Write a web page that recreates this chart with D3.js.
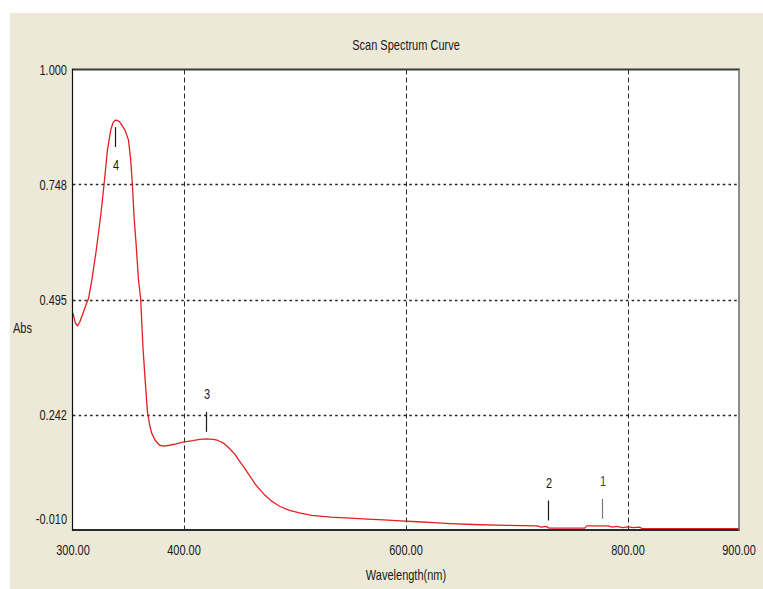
<!DOCTYPE html>
<html>
<head>
<meta charset="utf-8">
<script src="https://cdn.jsdelivr.net/npm/d3@7"></script>
<style>
  html, body { margin: 0; padding: 0; background: #ffffff; }
  svg { display: block; }
  text { font-family: "Liberation Sans Narrow", "Liberation Sans", Arial, sans-serif; fill: #1a1a1a;
         -webkit-font-smoothing: antialiased; }
</style>
</head>
<body>
<svg id="chart" width="763" height="589"></svg>
<script>
// Scan spectrum: wavelength (nm) vs absorbance
const wavelength = [
  300, 302, 304, 306, 309, 312, 314, 317, 321, 325, 328, 331, 334, 336, 338, 340,
  342, 345, 347, 350, 352, 353.5, 355, 357, 359, 361, 363, 365, 367, 369, 371, 374,
  378, 382, 387, 393, 399, 408, 414, 420, 426, 430, 436, 441, 446, 450, 455, 460,
  464, 469, 473, 478, 483, 487, 495, 505, 515, 532, 550, 565, 580, 595, 610, 625,
  640, 660, 690, 718, 722, 726, 729, 735, 761, 763, 782, 786, 790, 795, 800, 805,
  810, 813, 900
];
const absorbance = [
  0.465, 0.444, 0.437, 0.445, 0.465, 0.485, 0.497, 0.538, 0.604, 0.680, 0.748, 0.823, 0.867, 0.883, 0.889, 0.888,
  0.885, 0.874, 0.866, 0.845, 0.801, 0.748, 0.677, 0.611, 0.538, 0.495, 0.391, 0.318, 0.250, 0.220, 0.201, 0.186,
  0.175, 0.173, 0.175, 0.178, 0.182, 0.185, 0.188, 0.189, 0.188, 0.186, 0.179, 0.168, 0.155, 0.140, 0.123, 0.105,
  0.090, 0.076, 0.065, 0.054, 0.046, 0.040, 0.032, 0.026, 0.021, 0.017, 0.015, 0.013, 0.011, 0.009, 0.007, 0.005,
  0.003, 0.001, -0.001, -0.002, -0.005, -0.003, -0.007, -0.007, -0.007, -0.002, -0.002, -0.005, -0.003, -0.006, -0.004, -0.006,
  -0.005, -0.008, -0.008
];

// Axis ticks and labels
const xTicks = [300, 400, 600, 800, 900];
const xTickLabels = ["300.00", "400.00", "600.00", "800.00", "900.00"];
const xGrid = [400, 600, 800];
const yTicks = [1.000, 0.748, 0.495, 0.242, -0.010];
const yTickLabels = ["1.000", "0.748", "0.495", "0.242", "-0.010"];
const yGrid = [0.748, 0.495, 0.242];

// Peak markers
const peakIds = ["4", "3", "2", "1"];
const peakNm = [338, 420, 728, 777];
const peakSide = ["below", "above", "above", "above"];
const peakColor = ["#1a1a1a", "#1a1a1a", "#1a1a1a", "#7a7a7a"];

const svg = d3.select("#chart");
const plot = { left: 73, right: 739, top: 69.5, bottom: 529.5 };

const x = d3.scaleLinear().domain([300, 900]).range([plot.left, plot.right]);
const y = d3.scaleLinear().domain([-0.010, 1.000]).range([plot.bottom, plot.top]);

// window panel
svg.append("rect").attr("x", 10).attr("y", 13).attr("width", 753).attr("height", 576)
  .attr("fill", "#ece9d8");

// plot area
svg.append("rect")
  .attr("x", plot.left).attr("y", plot.top)
  .attr("width", plot.right - plot.left).attr("height", plot.bottom - plot.top)
  .attr("fill", "#ffffff");

// tall, narrow text like the instrument software
function label(g, px, py, str, anchor, size, color) {
  g.append("text")
    .attr("transform", `translate(${px},${py}) scale(1,1.38)`)
    .attr("text-anchor", anchor)
    .attr("dy", "0.36em")
    .attr("font-size", size || 11)
    .style("fill", color || "#1a1a1a")
    .text(str);
}

// grid lines
const grid = svg.append("g");
grid.selectAll("line.v").data(xGrid).join("line")
  .attr("x1", d => Math.round(x(d)) + 0.5).attr("x2", d => Math.round(x(d)) + 0.5)
  .attr("y1", plot.top).attr("y2", plot.bottom)
  .attr("stroke", "#2a2a2a").attr("stroke-width", 1)
  .attr("stroke-dasharray", "5,3");
grid.selectAll("line.h").data(yGrid).join("line")
  .attr("x1", plot.left).attr("x2", plot.right)
  .attr("y1", d => Math.round(y(d)) + 0.5).attr("y2", d => Math.round(y(d)) + 0.5)
  .attr("stroke", "#222222").attr("stroke-width", 1.3)
  .attr("stroke-dasharray", "2.5,3.2");

// spectrum curve
const pts = wavelength.map((w, i) => [w, absorbance[i]]);
svg.append("path")
  .datum(pts)
  .attr("d", d3.line().x(d => x(d[0])).y(d => y(d[1])))
  .attr("fill", "none")
  .attr("stroke", "#e51f1f")
  .attr("stroke-width", 1.3)
  .attr("stroke-linejoin", "round");

// frame
const frame = svg.append("g");
frame.append("line").attr("x1", plot.left).attr("x2", plot.right + 0.5)
  .attr("y1", plot.top).attr("y2", plot.top).attr("stroke", "#3a3a3a").attr("stroke-width", 2);
frame.append("line").attr("x1", plot.left).attr("x2", plot.right + 0.5)
  .attr("y1", plot.bottom + 0.5).attr("y2", plot.bottom + 0.5).attr("stroke", "#2a2a2a").attr("stroke-width", 2);
frame.append("line").attr("x1", plot.left - 0.5).attr("x2", plot.left - 0.5)
  .attr("y1", plot.top - 1).attr("y2", plot.bottom + 1.5).attr("stroke", "#111111").attr("stroke-width", 1.2);
frame.append("line").attr("x1", plot.right).attr("x2", plot.right)
  .attr("y1", plot.top - 1).attr("y2", plot.bottom + 1.5).attr("stroke", "#6a6a6a").attr("stroke-width", 1.5);

// peak markers
const interp = nm => {
  const i = d3.bisectLeft(wavelength, nm);
  if (i <= 0) return absorbance[0];
  const t = (nm - wavelength[i - 1]) / (wavelength[i] - wavelength[i - 1]);
  return absorbance[i - 1] + t * (absorbance[i] - absorbance[i - 1]);
};
const marks = svg.append("g");
peakIds.forEach((id, i) => {
  const px = Math.round(x(peakNm[i])) + 0.5;
  const cy = Math.min(y(interp(peakNm[i])), plot.bottom - 2);
  const dir = peakSide[i] === "below" ? 1 : -1;
  const t0 = cy + dir * 7, t1 = cy + dir * 27;
  marks.append("line").attr("x1", px).attr("x2", px).attr("y1", t0).attr("y2", t1)
    .attr("stroke", peakColor[i]).attr("stroke-width", 1.2);
  label(marks, Math.round(px), Math.round(t1 + dir * 18), id, "middle", 11, i === 3 ? "#444444" : "#1a1a1a");
});

// axis labels
const axes = svg.append("g");
yTicks.forEach((v, i) => {
  const py = i === yTicks.length - 1 ? y(v) - 11 : y(v);
  label(axes, 67, py, yTickLabels[i], "end");
});
xTicks.forEach((v, i) => {
  label(axes, x(v), 549.5, xTickLabels[i], "middle");
});

label(svg, (plot.left + plot.right) / 2, 45, "Scan Spectrum Curve", "middle");
label(svg, (plot.left + plot.right) / 2, 575, "Wavelength(nm)", "middle");
label(svg, 22.5, 327.5, "Abs", "middle");
</script>
</body>
</html>
